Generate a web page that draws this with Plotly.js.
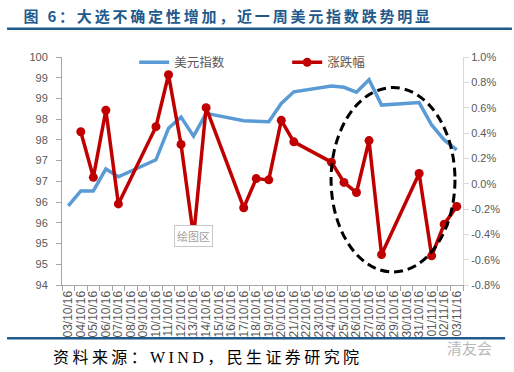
<!DOCTYPE html>
<html>
<head>
<meta charset="utf-8">
<script src="https://cdn.plot.ly/plotly-3.0.1.min.js"></script>
<style>
html,body{margin:0;padding:0;background:#fff;}
#chart{width:514px;height:372px;}
g.annotation[data-index="0"] text{letter-spacing:2.8px;}
g.annotation[data-index="1"] text{letter-spacing:3.4px;}
</style>
</head>
<body>
<div id="chart"></div>
<script>
// ---- data ----
const dates = ["03/10/16","04/10/16","05/10/16","06/10/16","07/10/16","08/10/16","09/10/16","10/10/16",
  "11/10/16","12/10/16","13/10/16","14/10/16","15/10/16","16/10/16","17/10/16","18/10/16",
  "19/10/16","20/10/16","21/10/16","22/10/16","23/10/16","24/10/16","25/10/16","26/10/16",
  "27/10/16","28/10/16","29/10/16","30/10/16","31/10/16","01/11/16","02/11/16","03/11/16"];
// 美元指数 (weekends empty)
const usdIndex = [95.91, 96.27, 96.27, 96.80, 96.61, null, null, 97.02,
  97.78, 98.05, 97.59, 98.14, null, null, 97.96, 97.95,
  97.94, 98.38, 98.66, null, null, 98.80, 98.77, 98.65,
  98.95, 98.34, null, null, 98.40, 97.86, 97.50, 97.26];
// 涨跌幅 (%)
const pctChange = [null, 0.41, 0.05, 0.58, -0.16, null, null, 0.45,
  0.86, 0.31, -0.42, 0.60, null, null, -0.19, 0.04,
  0.03, 0.50, 0.33, null, null, 0.17, 0.01, -0.07,
  0.34, -0.56, null, null, 0.08, -0.57, -0.32, -0.18];
const leftTickVals = [94, 94.5, 95, 95.5, 96, 96.5, 97, 97.5, 98, 98.5, 99, 99.5];
const leftTickText = ["94", "95", "95", "96", "96", "97", "97", "98", "98", "99", "99", "100"];
const rightTickVals = [-0.8, -0.6, -0.4, -0.2, 0, 0.2, 0.4, 0.6, 0.8, 1.0];
const rightTickText = ["-0.8%", "-0.6%", "-0.4%", "-0.2%", "0.0%", "0.2%", "0.4%", "0.6%", "0.8%", "1.0%"];
const seriesNames = ["美元指数", "涨跌幅"];
const titleText = "图 6：大选不确定性增加，近一周美元指数跌势明显";
const sourceText = "资料来源：WIND，民生证券研究院";
const watermarkText = "清友会";

// ---- chart ----
const tickFont = {family: "Liberation Sans, Arial, sans-serif", size: 11, color: "#595959"};
const traces = [
  {x: dates, y: usdIndex, name: seriesNames[0], type: "scatter", mode: "lines",
   connectgaps: true, line: {color: "#5B9BD5", width: 3.5}, yaxis: "y"},
  {x: dates, y: pctChange, name: seriesNames[1], type: "scatter", mode: "lines+markers",
   connectgaps: true, line: {color: "#C00000", width: 3.5},
   marker: {color: "#C00000", size: 9}, yaxis: "y2"}
];
const layout = {
  width: 514, height: 372,
  margin: {l: 62, r: 51, t: 57, b: 87},
  paper_bgcolor: "#ffffff", plot_bgcolor: "#ffffff",
  font: {family: "Noto Sans CJK SC, sans-serif", color: "#595959"},
  showlegend: true,
  legend: {orientation: "h", x: 0.18, y: 0.975, xanchor: "left", yanchor: "middle",
    font: {family: "Noto Sans CJK SC, sans-serif", size: 12.5, color: "#595959"},
    bgcolor: "rgba(0,0,0,0)", entrywidth: 108, entrywidthmode: "pixels", traceorder: "normal"},
  xaxis: {type: "category", range: [-0.5, 31.5], tickmode: "array", tickvals: dates, ticktext: dates,
    tickangle: -90, tickfont: {family: "Liberation Sans, Arial, sans-serif", size: 12, color: "#595959"},
    showline: true, linecolor: "#A6A6A6", linewidth: 1, ticks: "outside", ticklen: 5,
    tickcolor: "#A6A6A6", tickson: "boundaries", showgrid: false, zeroline: false},
  yaxis: {range: [94, 99.5], tickmode: "array", tickvals: leftTickVals, ticktext: leftTickText,
    tickfont: tickFont, showline: true, linecolor: "#A6A6A6", ticks: "outside", ticklen: 5,
    tickcolor: "#A6A6A6", showgrid: false, zeroline: false, ticklabelstandoff: 6},
  yaxis2: {range: [-0.8, 1.0], overlaying: "y", side: "right", tickmode: "array",
    tickvals: rightTickVals, ticktext: rightTickText, tickfont: tickFont,
    showline: true, linecolor: "#D9D9D9", ticks: "outside", ticklen: 5, tickcolor: "#D9D9D9",
    showgrid: false, zeroline: false},
  shapes: [
    {type: "line", xref: "paper", yref: "paper", x0: -0.137, x1: 1.122, y0: 1.124, y1: 1.124,
     line: {color: "#1F5A8C", width: 2.5}},
    {type: "line", xref: "paper", yref: "paper", x0: -0.137, x1: 1.105, y0: -0.234, y1: -0.234,
     line: {color: "#1F5A8C", width: 2.5}},
    {type: "circle", xref: "paper", yref: "paper", x0: 0.671, x1: 0.980, y0: 0.057, y1: 0.866,
     line: {color: "#000000", width: 3, dash: "9px,5px"}}
  ],
  annotations: [
    {text: titleText, xref: "paper", yref: "paper", x: 0.4148, y: 1.184, xanchor: "center",
     yanchor: "middle", showarrow: false,
     font: {family: "Noto Sans CJK SC, sans-serif", size: 15, color: "#1F5A8C", weight: "bold"}},
    {text: sourceText, xref: "paper", yref: "paper", x: 0.363, y: -0.319, xanchor: "center",
     yanchor: "middle", showarrow: false,
     font: {family: "Liberation Serif, Noto Sans CJK SC, serif", size: 16, color: "#000000"}},
    {text: "绘图区", xref: "paper", yref: "paper", x: 0.279, y: 0.167, showarrow: false,
     font: {family: "Noto Sans CJK SC, sans-serif", size: 11, color: "#A0A0A0"},
     bordercolor: "#C8C8C8", borderwidth: 1, borderpad: 2, bgcolor: "#ffffff"},
    {text: watermarkText, xref: "paper", yref: "paper", x: 1.015, y: -0.276, xanchor: "center",
     yanchor: "middle", showarrow: false,
     font: {family: "Noto Sans CJK SC, sans-serif", size: 15, color: "#B8B8B8"}}
  ]
};
Plotly.newPlot("chart", traces, layout, {staticPlot: true, displayModeBar: false});
</script>
</body>
</html>
